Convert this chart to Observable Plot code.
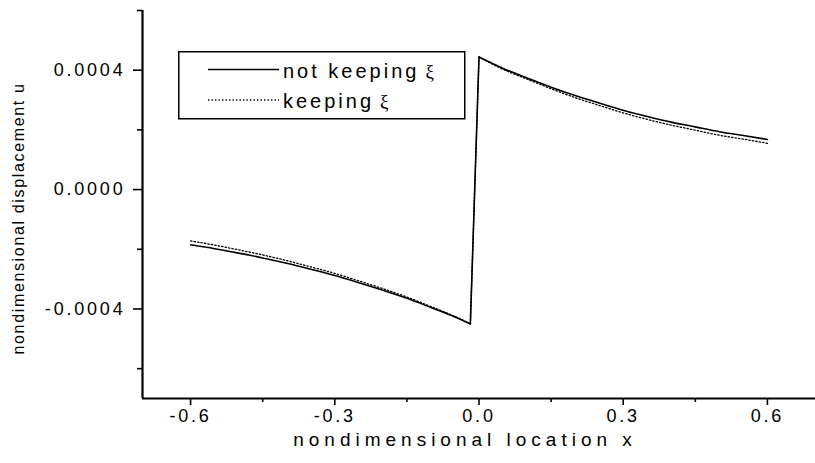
<!DOCTYPE html>
<html>
<head>
<meta charset="utf-8">
<script src="https://cdn.jsdelivr.net/npm/d3@7"></script>
<script src="https://cdn.jsdelivr.net/npm/@observablehq/plot@0.6"></script>
<style>
  html, body { margin: 0; padding: 0; background: #fff; }
  #chart { position: relative; width: 815px; height: 463px; font-family: "Liberation Sans", Arial, sans-serif; }
  #chart > svg { display: block; }
  g[aria-label="x-axis tick label"] text,
  g[aria-label="y-axis tick label"] text { letter-spacing: 2.8px; font-size: 18px; }
  #legend { position: absolute; left: 178px; top: 51px; }
  #legend text { font-size: 20px; letter-spacing: 3px; fill: #000; }
  #legend .xi { font-family: "Liberation Serif", serif; font-size: 19px; }
</style>
</head>
<body>
<div id="chart"></div>
<script>
// Axis ticks, extents and titles
const xTicks = [-0.6, -0.3, 0.0, 0.3, 0.6];
const xMinorTicks = [-0.45, -0.15, 0.15, 0.45];
const yTicks = [-0.0004, 0.0, 0.0004];
const yMinorTicks = [-0.0006, -0.0002, 0.0002, 0.0006];
const xDomain = [-0.7, 0.7];
const yDomain = [-0.0007, 0.0006];
const xTitle = "nondimensional location x";
const yTitle = "nondimensional displacement u";

// Series names
const seriesNames = ["not keeping ξ", "keeping ξ"];

// Nondimensional location x (left branch ends just before the jump)
const xLocation = [
  -0.6, -0.55, -0.5, -0.45, -0.4, -0.35, -0.3, -0.25, -0.2, -0.15, -0.1, -0.05, -0.018,
  0.0, 0.05, 0.1, 0.15, 0.2, 0.25, 0.3, 0.35, 0.4, 0.45, 0.5, 0.55, 0.6
];

// Displacement u, not keeping ξ
const uNotKeeping = [
  -0.000185, -0.000198, -0.000213, -0.000229, -0.000247, -0.000267, -0.000288, -0.000312, -0.000337, -0.000364, -0.000395, -0.000427, -0.000450,
  0.000444, 0.000406, 0.000374, 0.000343, 0.000315, 0.000290, 0.000266, 0.000245, 0.000226, 0.000210, 0.000194, 0.000181, 0.000168
];

// Displacement u, keeping ξ
const uKeeping = [
  -0.000172, -0.000186, -0.000202, -0.000219, -0.000238, -0.000259, -0.000281, -0.000306, -0.000332, -0.000360, -0.000392, -0.000425, -0.000450,
  0.000444, 0.000403, 0.000370, 0.000338, 0.000308, 0.000282, 0.000257, 0.000235, 0.000216, 0.000199, 0.000182, 0.000169, 0.000155
];

// Split each series into the smooth branch left of the jump, the jump itself,
// and the smooth branch right of it.
const jumpIndex = xLocation.findIndex(x => x >= 0);
function pieces(values, series) {
  const pts = xLocation.map((x, i) => ({x, u: values[i], series}));
  return {
    left: pts.slice(0, jumpIndex),
    jump: pts.slice(jumpIndex - 1, jumpIndex + 1),
    right: pts.slice(jumpIndex)
  };
}
const solid = pieces(uNotKeeping, seriesNames[0]);
const dotted = pieces(uKeeping, seriesNames[1]);

const dottedStyle = {x: "x", y: "u", stroke: "#000", strokeWidth: 1.3, strokeDasharray: "1.4,2.1"};
const solidStyle = {x: "x", y: "u", stroke: "#000", strokeWidth: 1.6};

const plot = Plot.plot({
  width: 815,
  height: 463,
  marginLeft: 142,
  marginRight: 0,
  marginTop: 10,
  marginBottom: 65,
  style: {fontFamily: '"Liberation Sans", Arial, sans-serif', fontSize: "18px", color: "#000", background: "#fff"},
  x: {domain: xDomain},
  y: {domain: yDomain},
  marks: [
    Plot.axisX(xMinorTicks, {tickSize: 4, strokeWidth: 1.6, tickFormat: () => "", label: null}),
    Plot.axisX(xTicks, {tickSize: 7, tickPadding: 4, strokeWidth: 1.6, tickFormat: d => d.toFixed(1), label: null}),
    Plot.axisY(yMinorTicks, {tickSize: 5, strokeWidth: 1.6, tickFormat: () => "", label: null}),
    Plot.axisY(yTicks, {tickSize: 9, tickPadding: 8, strokeWidth: 1.6, tickFormat: d => d.toFixed(4), label: null}),
    Plot.text([xTitle], {text: d => d, frameAnchor: "bottom", textAnchor: "middle", lineAnchor: "bottom", dx: -14, dy: 47, fontSize: 19, fill: "#000"}),
    Plot.text([yTitle], {text: d => d, frameAnchor: "left", textAnchor: "middle", lineAnchor: "top", rotate: -90, dx: -130, dy: 14, fontSize: 16, fill: "#000"}),
    Plot.ruleX([xDomain[0]], {stroke: "#000", strokeWidth: 2.2}),
    Plot.ruleY([yDomain[0]], {stroke: "#000", strokeWidth: 2.2}),
    Plot.line(dotted.left, {...dottedStyle, curve: "monotone-x"}),
    Plot.line(dotted.jump, dottedStyle),
    Plot.line(dotted.right, {...dottedStyle, curve: "monotone-x"}),
    Plot.line(solid.left, {...solidStyle, curve: "monotone-x"}),
    Plot.line(solid.jump, solidStyle),
    Plot.line(solid.right, {...solidStyle, curve: "monotone-x"})
  ]
});

const chart = document.getElementById("chart");
chart.appendChild(plot);

// Wide-set lettering of the axis titles
d3.select(plot).selectAll("text").each(function() {
  const s = this.textContent;
  if (s === xTitle) this.style.letterSpacing = "5px";
  if (s === yTitle) this.style.letterSpacing = "1.65px";
});

// Legend box drawn over the plot area
const legend = d3.select(chart).append("svg")
  .attr("id", "legend")
  .attr("width", 288)
  .attr("height", 69);
legend.append("rect")
  .attr("x", 0.75).attr("y", 0.75).attr("width", 286).attr("height", 67)
  .attr("fill", "#fff").attr("stroke", "#000").attr("stroke-width", 1.5);
const legendRows = [
  {name: seriesNames[0], dash: null, width: 1.6},
  {name: seriesNames[1], dash: "1.4,2.1", width: 1.3}
];
legendRows.forEach((r, i) => {
  const cy = 18.5 + i * 30.5;
  legend.append("line")
    .attr("x1", 30).attr("x2", 101).attr("y1", cy).attr("y2", cy)
    .attr("stroke", "#000").attr("stroke-width", r.width)
    .attr("stroke-dasharray", r.dash);
  const label = r.name.replace(/\s*ξ$/, "");
  const t = legend.append("text").attr("x", 105).attr("y", cy + 8);
  t.append("tspan").text(label);
  t.append("tspan").attr("class", "xi").attr("dx", 6).text("ξ");
});
</script>
</body>
</html>
